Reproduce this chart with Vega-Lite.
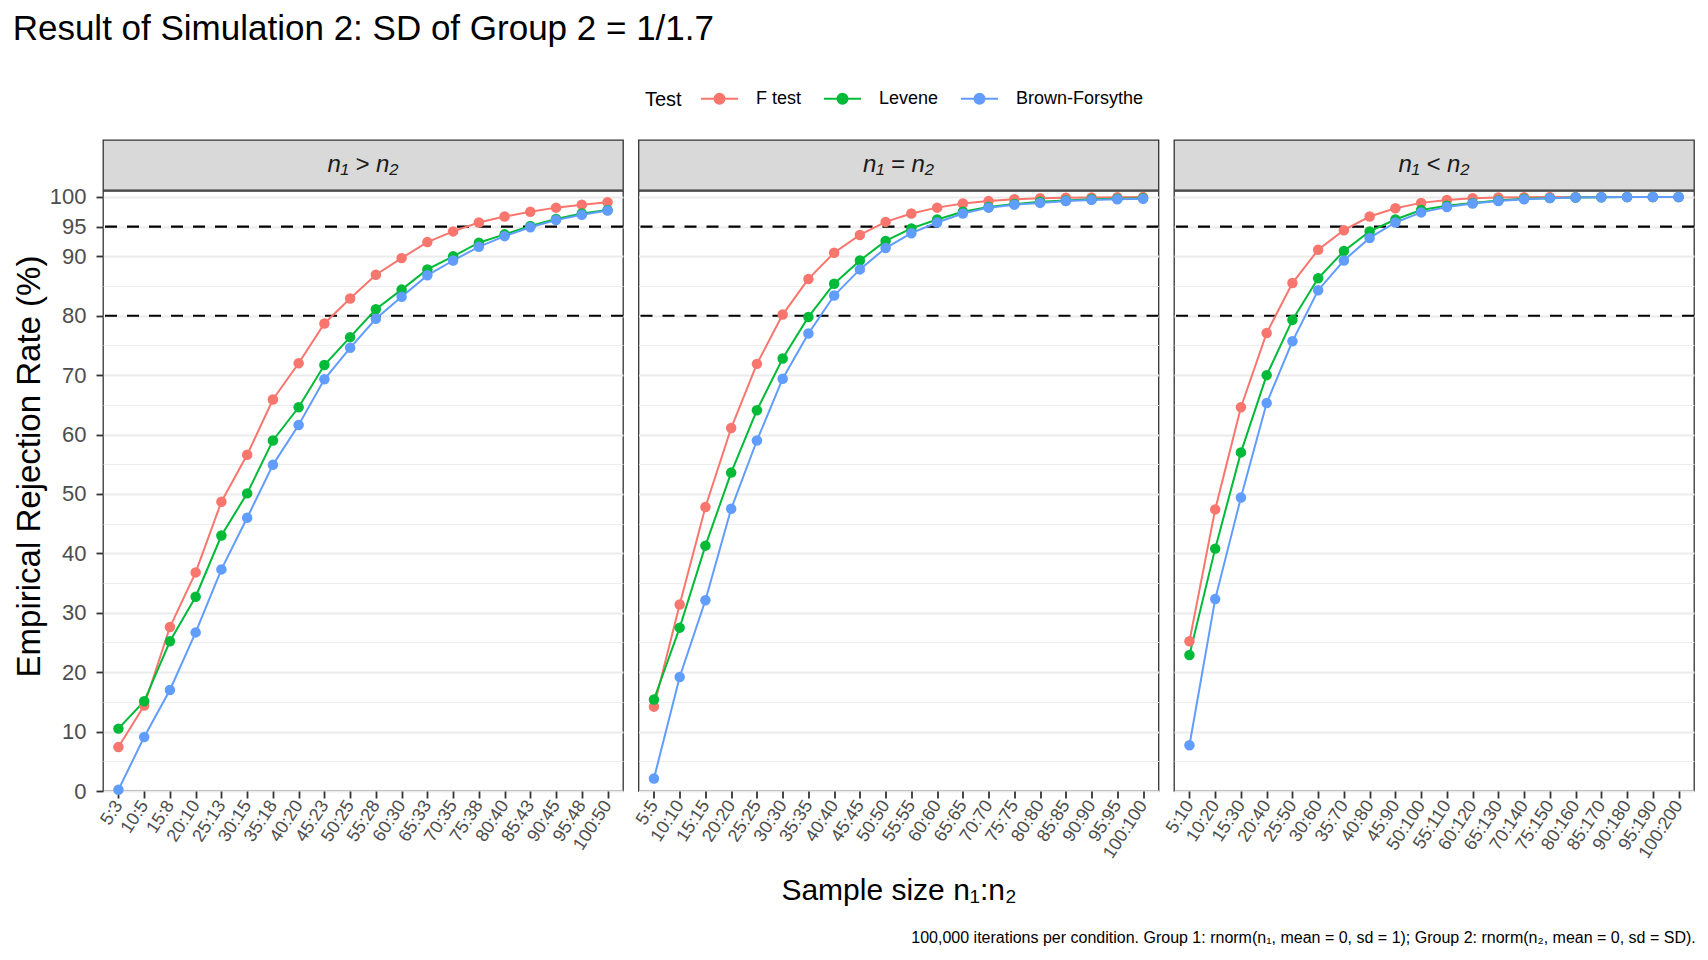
{
  "$schema": "https://vega.github.io/schema/vega-lite/v6.json",
  "background": "white",
  "padding": {"left": 12, "top": 12, "right": 10, "bottom": 8},
  "title": {
    "text": "Result of Simulation 2: SD of Group 2 = 1/1.7",
    "anchor": "start",
    "frame": "bounds",
    "fontSize": 35,
    "fontWeight": "normal",
    "color": "black",
    "offset": 32
  },
  "datasets": {
    "refs": [{"rate": 80}, {"rate": 95}],
    "sim": [
      {"panel": "gt", "ratio": "5:3", "n1": 5, "test": "F test", "rate": 7.4},
      {"panel": "gt", "ratio": "10:5", "n1": 10, "test": "F test", "rate": 14.4},
      {"panel": "gt", "ratio": "15:8", "n1": 15, "test": "F test", "rate": 27.6},
      {"panel": "gt", "ratio": "20:10", "n1": 20, "test": "F test", "rate": 36.8},
      {"panel": "gt", "ratio": "25:13", "n1": 25, "test": "F test", "rate": 48.7},
      {"panel": "gt", "ratio": "30:15", "n1": 30, "test": "F test", "rate": 56.6},
      {"panel": "gt", "ratio": "35:18", "n1": 35, "test": "F test", "rate": 65.9},
      {"panel": "gt", "ratio": "40:20", "n1": 40, "test": "F test", "rate": 72.0},
      {"panel": "gt", "ratio": "45:23", "n1": 45, "test": "F test", "rate": 78.7},
      {"panel": "gt", "ratio": "50:25", "n1": 50, "test": "F test", "rate": 82.9},
      {"panel": "gt", "ratio": "55:28", "n1": 55, "test": "F test", "rate": 86.9},
      {"panel": "gt", "ratio": "60:30", "n1": 60, "test": "F test", "rate": 89.7},
      {"panel": "gt", "ratio": "65:33", "n1": 65, "test": "F test", "rate": 92.4},
      {"panel": "gt", "ratio": "70:35", "n1": 70, "test": "F test", "rate": 94.2},
      {"panel": "gt", "ratio": "75:38", "n1": 75, "test": "F test", "rate": 95.7},
      {"panel": "gt", "ratio": "80:40", "n1": 80, "test": "F test", "rate": 96.7},
      {"panel": "gt", "ratio": "85:43", "n1": 85, "test": "F test", "rate": 97.5},
      {"panel": "gt", "ratio": "90:45", "n1": 90, "test": "F test", "rate": 98.2},
      {"panel": "gt", "ratio": "95:48", "n1": 95, "test": "F test", "rate": 98.7},
      {"panel": "gt", "ratio": "100:50", "n1": 100, "test": "F test", "rate": 99.1},
      {"panel": "gt", "ratio": "5:3", "n1": 5, "test": "Levene", "rate": 10.5},
      {"panel": "gt", "ratio": "10:5", "n1": 10, "test": "Levene", "rate": 15.1},
      {"panel": "gt", "ratio": "15:8", "n1": 15, "test": "Levene", "rate": 25.2},
      {"panel": "gt", "ratio": "20:10", "n1": 20, "test": "Levene", "rate": 32.7},
      {"panel": "gt", "ratio": "25:13", "n1": 25, "test": "Levene", "rate": 43.0},
      {"panel": "gt", "ratio": "30:15", "n1": 30, "test": "Levene", "rate": 50.1},
      {"panel": "gt", "ratio": "35:18", "n1": 35, "test": "Levene", "rate": 59.0},
      {"panel": "gt", "ratio": "40:20", "n1": 40, "test": "Levene", "rate": 64.6},
      {"panel": "gt", "ratio": "45:23", "n1": 45, "test": "Levene", "rate": 71.7},
      {"panel": "gt", "ratio": "50:25", "n1": 50, "test": "Levene", "rate": 76.4},
      {"panel": "gt", "ratio": "55:28", "n1": 55, "test": "Levene", "rate": 81.1},
      {"panel": "gt", "ratio": "60:30", "n1": 60, "test": "Levene", "rate": 84.4},
      {"panel": "gt", "ratio": "65:33", "n1": 65, "test": "Levene", "rate": 87.8},
      {"panel": "gt", "ratio": "70:35", "n1": 70, "test": "Levene", "rate": 90.0},
      {"panel": "gt", "ratio": "75:38", "n1": 75, "test": "Levene", "rate": 92.3},
      {"panel": "gt", "ratio": "80:40", "n1": 80, "test": "Levene", "rate": 93.7},
      {"panel": "gt", "ratio": "85:43", "n1": 85, "test": "Levene", "rate": 95.1},
      {"panel": "gt", "ratio": "90:45", "n1": 90, "test": "Levene", "rate": 96.3},
      {"panel": "gt", "ratio": "95:48", "n1": 95, "test": "Levene", "rate": 97.2},
      {"panel": "gt", "ratio": "100:50", "n1": 100, "test": "Levene", "rate": 97.8},
      {"panel": "gt", "ratio": "5:3", "n1": 5, "test": "Brown-Forsythe", "rate": 0.2},
      {"panel": "gt", "ratio": "10:5", "n1": 10, "test": "Brown-Forsythe", "rate": 9.1},
      {"panel": "gt", "ratio": "15:8", "n1": 15, "test": "Brown-Forsythe", "rate": 17.0},
      {"panel": "gt", "ratio": "20:10", "n1": 20, "test": "Brown-Forsythe", "rate": 26.7},
      {"panel": "gt", "ratio": "25:13", "n1": 25, "test": "Brown-Forsythe", "rate": 37.3},
      {"panel": "gt", "ratio": "30:15", "n1": 30, "test": "Brown-Forsythe", "rate": 46.0},
      {"panel": "gt", "ratio": "35:18", "n1": 35, "test": "Brown-Forsythe", "rate": 54.9},
      {"panel": "gt", "ratio": "40:20", "n1": 40, "test": "Brown-Forsythe", "rate": 61.6},
      {"panel": "gt", "ratio": "45:23", "n1": 45, "test": "Brown-Forsythe", "rate": 69.3},
      {"panel": "gt", "ratio": "50:25", "n1": 50, "test": "Brown-Forsythe", "rate": 74.6},
      {"panel": "gt", "ratio": "55:28", "n1": 55, "test": "Brown-Forsythe", "rate": 79.5},
      {"panel": "gt", "ratio": "60:30", "n1": 60, "test": "Brown-Forsythe", "rate": 83.2},
      {"panel": "gt", "ratio": "65:33", "n1": 65, "test": "Brown-Forsythe", "rate": 86.8},
      {"panel": "gt", "ratio": "70:35", "n1": 70, "test": "Brown-Forsythe", "rate": 89.3},
      {"panel": "gt", "ratio": "75:38", "n1": 75, "test": "Brown-Forsythe", "rate": 91.6},
      {"panel": "gt", "ratio": "80:40", "n1": 80, "test": "Brown-Forsythe", "rate": 93.4},
      {"panel": "gt", "ratio": "85:43", "n1": 85, "test": "Brown-Forsythe", "rate": 94.9},
      {"panel": "gt", "ratio": "90:45", "n1": 90, "test": "Brown-Forsythe", "rate": 96.1},
      {"panel": "gt", "ratio": "95:48", "n1": 95, "test": "Brown-Forsythe", "rate": 97.0},
      {"panel": "gt", "ratio": "100:50", "n1": 100, "test": "Brown-Forsythe", "rate": 97.7},
      {"panel": "eq", "ratio": "5:5", "n1": 5, "test": "F test", "rate": 14.2},
      {"panel": "eq", "ratio": "10:10", "n1": 10, "test": "F test", "rate": 31.4},
      {"panel": "eq", "ratio": "15:15", "n1": 15, "test": "F test", "rate": 47.8},
      {"panel": "eq", "ratio": "20:20", "n1": 20, "test": "F test", "rate": 61.1},
      {"panel": "eq", "ratio": "25:25", "n1": 25, "test": "F test", "rate": 71.9},
      {"panel": "eq", "ratio": "30:30", "n1": 30, "test": "F test", "rate": 80.2},
      {"panel": "eq", "ratio": "35:35", "n1": 35, "test": "F test", "rate": 86.2},
      {"panel": "eq", "ratio": "40:40", "n1": 40, "test": "F test", "rate": 90.6},
      {"panel": "eq", "ratio": "45:45", "n1": 45, "test": "F test", "rate": 93.6},
      {"panel": "eq", "ratio": "50:50", "n1": 50, "test": "F test", "rate": 95.8},
      {"panel": "eq", "ratio": "55:55", "n1": 55, "test": "F test", "rate": 97.2},
      {"panel": "eq", "ratio": "60:60", "n1": 60, "test": "F test", "rate": 98.2},
      {"panel": "eq", "ratio": "65:65", "n1": 65, "test": "F test", "rate": 98.9},
      {"panel": "eq", "ratio": "70:70", "n1": 70, "test": "F test", "rate": 99.3},
      {"panel": "eq", "ratio": "75:75", "n1": 75, "test": "F test", "rate": 99.6},
      {"panel": "eq", "ratio": "80:80", "n1": 80, "test": "F test", "rate": 99.8},
      {"panel": "eq", "ratio": "85:85", "n1": 85, "test": "F test", "rate": 99.85},
      {"panel": "eq", "ratio": "90:90", "n1": 90, "test": "F test", "rate": 99.9},
      {"panel": "eq", "ratio": "95:95", "n1": 95, "test": "F test", "rate": 99.95},
      {"panel": "eq", "ratio": "100:100", "n1": 100, "test": "F test", "rate": 99.97},
      {"panel": "eq", "ratio": "5:5", "n1": 5, "test": "Levene", "rate": 15.4},
      {"panel": "eq", "ratio": "10:10", "n1": 10, "test": "Levene", "rate": 27.5},
      {"panel": "eq", "ratio": "15:15", "n1": 15, "test": "Levene", "rate": 41.3},
      {"panel": "eq", "ratio": "20:20", "n1": 20, "test": "Levene", "rate": 53.6},
      {"panel": "eq", "ratio": "25:25", "n1": 25, "test": "Levene", "rate": 64.1},
      {"panel": "eq", "ratio": "30:30", "n1": 30, "test": "Levene", "rate": 72.8},
      {"panel": "eq", "ratio": "35:35", "n1": 35, "test": "Levene", "rate": 79.8},
      {"panel": "eq", "ratio": "40:40", "n1": 40, "test": "Levene", "rate": 85.4},
      {"panel": "eq", "ratio": "45:45", "n1": 45, "test": "Levene", "rate": 89.3},
      {"panel": "eq", "ratio": "50:50", "n1": 50, "test": "Levene", "rate": 92.6},
      {"panel": "eq", "ratio": "55:55", "n1": 55, "test": "Levene", "rate": 94.7},
      {"panel": "eq", "ratio": "60:60", "n1": 60, "test": "Levene", "rate": 96.2},
      {"panel": "eq", "ratio": "65:65", "n1": 65, "test": "Levene", "rate": 97.5},
      {"panel": "eq", "ratio": "70:70", "n1": 70, "test": "Levene", "rate": 98.3},
      {"panel": "eq", "ratio": "75:75", "n1": 75, "test": "Levene", "rate": 98.8},
      {"panel": "eq", "ratio": "80:80", "n1": 80, "test": "Levene", "rate": 99.2},
      {"panel": "eq", "ratio": "85:85", "n1": 85, "test": "Levene", "rate": 99.4},
      {"panel": "eq", "ratio": "90:90", "n1": 90, "test": "Levene", "rate": 99.6},
      {"panel": "eq", "ratio": "95:95", "n1": 95, "test": "Levene", "rate": 99.7},
      {"panel": "eq", "ratio": "100:100", "n1": 100, "test": "Levene", "rate": 99.8},
      {"panel": "eq", "ratio": "5:5", "n1": 5, "test": "Brown-Forsythe", "rate": 2.1},
      {"panel": "eq", "ratio": "10:10", "n1": 10, "test": "Brown-Forsythe", "rate": 19.2},
      {"panel": "eq", "ratio": "15:15", "n1": 15, "test": "Brown-Forsythe", "rate": 32.1},
      {"panel": "eq", "ratio": "20:20", "n1": 20, "test": "Brown-Forsythe", "rate": 47.5},
      {"panel": "eq", "ratio": "25:25", "n1": 25, "test": "Brown-Forsythe", "rate": 59.0},
      {"panel": "eq", "ratio": "30:30", "n1": 30, "test": "Brown-Forsythe", "rate": 69.4},
      {"panel": "eq", "ratio": "35:35", "n1": 35, "test": "Brown-Forsythe", "rate": 77.0},
      {"panel": "eq", "ratio": "40:40", "n1": 40, "test": "Brown-Forsythe", "rate": 83.4},
      {"panel": "eq", "ratio": "45:45", "n1": 45, "test": "Brown-Forsythe", "rate": 87.8},
      {"panel": "eq", "ratio": "50:50", "n1": 50, "test": "Brown-Forsythe", "rate": 91.4},
      {"panel": "eq", "ratio": "55:55", "n1": 55, "test": "Brown-Forsythe", "rate": 93.9},
      {"panel": "eq", "ratio": "60:60", "n1": 60, "test": "Brown-Forsythe", "rate": 95.7},
      {"panel": "eq", "ratio": "65:65", "n1": 65, "test": "Brown-Forsythe", "rate": 97.2},
      {"panel": "eq", "ratio": "70:70", "n1": 70, "test": "Brown-Forsythe", "rate": 98.2},
      {"panel": "eq", "ratio": "75:75", "n1": 75, "test": "Brown-Forsythe", "rate": 98.7},
      {"panel": "eq", "ratio": "80:80", "n1": 80, "test": "Brown-Forsythe", "rate": 99.0},
      {"panel": "eq", "ratio": "85:85", "n1": 85, "test": "Brown-Forsythe", "rate": 99.3},
      {"panel": "eq", "ratio": "90:90", "n1": 90, "test": "Brown-Forsythe", "rate": 99.5},
      {"panel": "eq", "ratio": "95:95", "n1": 95, "test": "Brown-Forsythe", "rate": 99.6},
      {"panel": "eq", "ratio": "100:100", "n1": 100, "test": "Brown-Forsythe", "rate": 99.7},
      {"panel": "lt", "ratio": "5:10", "n1": 5, "test": "F test", "rate": 25.2},
      {"panel": "lt", "ratio": "10:20", "n1": 10, "test": "F test", "rate": 47.4},
      {"panel": "lt", "ratio": "15:30", "n1": 15, "test": "F test", "rate": 64.6},
      {"panel": "lt", "ratio": "20:40", "n1": 20, "test": "F test", "rate": 77.1},
      {"panel": "lt", "ratio": "25:50", "n1": 25, "test": "F test", "rate": 85.5},
      {"panel": "lt", "ratio": "30:60", "n1": 30, "test": "F test", "rate": 91.1},
      {"panel": "lt", "ratio": "35:70", "n1": 35, "test": "F test", "rate": 94.4},
      {"panel": "lt", "ratio": "40:80", "n1": 40, "test": "F test", "rate": 96.7},
      {"panel": "lt", "ratio": "45:90", "n1": 45, "test": "F test", "rate": 98.1},
      {"panel": "lt", "ratio": "50:100", "n1": 50, "test": "F test", "rate": 99.0},
      {"panel": "lt", "ratio": "55:110", "n1": 55, "test": "F test", "rate": 99.5},
      {"panel": "lt", "ratio": "60:120", "n1": 60, "test": "F test", "rate": 99.8},
      {"panel": "lt", "ratio": "65:130", "n1": 65, "test": "F test", "rate": 99.9},
      {"panel": "lt", "ratio": "70:140", "n1": 70, "test": "F test", "rate": 99.95},
      {"panel": "lt", "ratio": "75:150", "n1": 75, "test": "F test", "rate": 99.97},
      {"panel": "lt", "ratio": "80:160", "n1": 80, "test": "F test", "rate": 99.98},
      {"panel": "lt", "ratio": "85:170", "n1": 85, "test": "F test", "rate": 99.99},
      {"panel": "lt", "ratio": "90:180", "n1": 90, "test": "F test", "rate": 100},
      {"panel": "lt", "ratio": "95:190", "n1": 95, "test": "F test", "rate": 100},
      {"panel": "lt", "ratio": "100:200", "n1": 100, "test": "F test", "rate": 100},
      {"panel": "lt", "ratio": "5:10", "n1": 5, "test": "Levene", "rate": 22.9},
      {"panel": "lt", "ratio": "10:20", "n1": 10, "test": "Levene", "rate": 40.8},
      {"panel": "lt", "ratio": "15:30", "n1": 15, "test": "Levene", "rate": 57.0},
      {"panel": "lt", "ratio": "20:40", "n1": 20, "test": "Levene", "rate": 70.0},
      {"panel": "lt", "ratio": "25:50", "n1": 25, "test": "Levene", "rate": 79.3},
      {"panel": "lt", "ratio": "30:60", "n1": 30, "test": "Levene", "rate": 86.3},
      {"panel": "lt", "ratio": "35:70", "n1": 35, "test": "Levene", "rate": 90.9},
      {"panel": "lt", "ratio": "40:80", "n1": 40, "test": "Levene", "rate": 94.2},
      {"panel": "lt", "ratio": "45:90", "n1": 45, "test": "Levene", "rate": 96.2},
      {"panel": "lt", "ratio": "50:100", "n1": 50, "test": "Levene", "rate": 97.8},
      {"panel": "lt", "ratio": "55:110", "n1": 55, "test": "Levene", "rate": 98.5},
      {"panel": "lt", "ratio": "60:120", "n1": 60, "test": "Levene", "rate": 99.0},
      {"panel": "lt", "ratio": "65:130", "n1": 65, "test": "Levene", "rate": 99.4},
      {"panel": "lt", "ratio": "70:140", "n1": 70, "test": "Levene", "rate": 99.7},
      {"panel": "lt", "ratio": "75:150", "n1": 75, "test": "Levene", "rate": 99.8},
      {"panel": "lt", "ratio": "80:160", "n1": 80, "test": "Levene", "rate": 99.9},
      {"panel": "lt", "ratio": "85:170", "n1": 85, "test": "Levene", "rate": 99.95},
      {"panel": "lt", "ratio": "90:180", "n1": 90, "test": "Levene", "rate": 99.97},
      {"panel": "lt", "ratio": "95:190", "n1": 95, "test": "Levene", "rate": 99.98},
      {"panel": "lt", "ratio": "100:200", "n1": 100, "test": "Levene", "rate": 99.99},
      {"panel": "lt", "ratio": "5:10", "n1": 5, "test": "Brown-Forsythe", "rate": 7.7},
      {"panel": "lt", "ratio": "10:20", "n1": 10, "test": "Brown-Forsythe", "rate": 32.3},
      {"panel": "lt", "ratio": "15:30", "n1": 15, "test": "Brown-Forsythe", "rate": 49.4},
      {"panel": "lt", "ratio": "20:40", "n1": 20, "test": "Brown-Forsythe", "rate": 65.3},
      {"panel": "lt", "ratio": "25:50", "n1": 25, "test": "Brown-Forsythe", "rate": 75.7},
      {"panel": "lt", "ratio": "30:60", "n1": 30, "test": "Brown-Forsythe", "rate": 84.3},
      {"panel": "lt", "ratio": "35:70", "n1": 35, "test": "Brown-Forsythe", "rate": 89.3},
      {"panel": "lt", "ratio": "40:80", "n1": 40, "test": "Brown-Forsythe", "rate": 93.1},
      {"panel": "lt", "ratio": "45:90", "n1": 45, "test": "Brown-Forsythe", "rate": 95.7},
      {"panel": "lt", "ratio": "50:100", "n1": 50, "test": "Brown-Forsythe", "rate": 97.4},
      {"panel": "lt", "ratio": "55:110", "n1": 55, "test": "Brown-Forsythe", "rate": 98.3},
      {"panel": "lt", "ratio": "60:120", "n1": 60, "test": "Brown-Forsythe", "rate": 98.9},
      {"panel": "lt", "ratio": "65:130", "n1": 65, "test": "Brown-Forsythe", "rate": 99.3},
      {"panel": "lt", "ratio": "70:140", "n1": 70, "test": "Brown-Forsythe", "rate": 99.6},
      {"panel": "lt", "ratio": "75:150", "n1": 75, "test": "Brown-Forsythe", "rate": 99.8},
      {"panel": "lt", "ratio": "80:160", "n1": 80, "test": "Brown-Forsythe", "rate": 99.9},
      {"panel": "lt", "ratio": "85:170", "n1": 85, "test": "Brown-Forsythe", "rate": 99.95},
      {"panel": "lt", "ratio": "90:180", "n1": 90, "test": "Brown-Forsythe", "rate": 99.97},
      {"panel": "lt", "ratio": "95:190", "n1": 95, "test": "Brown-Forsythe", "rate": 99.98},
      {"panel": "lt", "ratio": "100:200", "n1": 100, "test": "Brown-Forsythe", "rate": 99.99}
    ]
  },
  "spacing": -7,
  "vconcat": [
    {
      "bounds": "flush",
      "spacing": 15.5,
      "hconcat": [
        {
          "width": 520,
          "height": 50,
          "view": {"fill": "#D9D9D9", "stroke": "#333333", "strokeWidth": 1.3},
          "data": {"values": [{"label": "n₁ > n₂"}]},
          "mark": {"type": "text", "fontSize": 24, "fontStyle": "italic", "color": "#1A1A1A", "baseline": "middle"},
          "encoding": {"text": {"field": "label"}}
        },
        {
          "width": 520,
          "height": 50,
          "view": {"fill": "#D9D9D9", "stroke": "#333333", "strokeWidth": 1.3},
          "data": {"values": [{"label": "n₁ = n₂"}]},
          "mark": {"type": "text", "fontSize": 24, "fontStyle": "italic", "color": "#1A1A1A", "baseline": "middle"},
          "encoding": {"text": {"field": "label"}}
        },
        {
          "width": 520,
          "height": 50,
          "view": {"fill": "#D9D9D9", "stroke": "#333333", "strokeWidth": 1.3},
          "data": {"values": [{"label": "n₁ < n₂"}]},
          "mark": {"type": "text", "fontSize": 24, "fontStyle": "italic", "color": "#1A1A1A", "baseline": "middle"},
          "encoding": {"text": {"field": "label"}}
        }
      ]
    },
    {
      "bounds": "flush",
      "spacing": 15.5,
      "title": {
        "text": "100,000 iterations per condition. Group 1: rnorm(n₁, mean = 0, sd = 1); Group 2: rnorm(n₂, mean = 0, sd = SD).",
        "orient": "bottom",
        "anchor": "end",
        "frame": "bounds",
        "fontSize": 16,
        "fontWeight": "normal",
        "color": "black",
        "offset": 24
      },
      "hconcat": [
        {
          "width": 520,
          "height": 600,
          "view": {"stroke": "#333333", "strokeWidth": 1.3},
          "encoding": {
            "y": {
              "field": "rate",
              "type": "quantitative",
              "scale": {"domain": [0, 101], "nice": false},
              "axis": {
                "title": "Empirical Rejection Rate (%)",
                "titleFontSize": 33,
                "titlePadding": 3,
                "titleY": 275,
                "values": [0, 5, 10, 15, 20, 25, 30, 35, 40, 45, 50, 55, 60, 65, 70, 75, 80, 85, 90, 95, 100],
                "labelExpr": "datum.value % 10 === 5 && datum.value < 90 ? '' : datum.label",
                "labelFontSize": 22,
                "labelPadding": 10,
                "labelOverlap": false,
                "tickColor": {"condition": {"test": "datum.value % 10 === 5 && datum.value < 90", "value": "transparent"}, "value": "#333333"},
                "gridWidth": {"condition": {"test": "datum.value % 10 === 5 && datum.value < 90", "value": 0.9}, "value": 1.8}
              }
            }
          },
          "layer": [
            {
              "data": {"name": "refs"},
              "mark": {"type": "rule", "color": "black", "strokeWidth": 2.2, "strokeDash": [12, 10]},
              "encoding": {}
            },
            {
              "data": {"name": "sim"},
              "transform": [{"filter": "datum.panel === 'gt'"}],
              "encoding": {
                "x": {
                  "field": "ratio",
                  "type": "ordinal",
                  "sort": {"field": "n1", "op": "min"},
                  "scale": {"type": "point", "padding": 0.6},
                  "axis": {"title": null, "labelAngle": -57, "labelAlign": "right", "labelBaseline": "middle", "labelFontSize": 18, "labelPadding": 4, "labelOverlap": false, "gridWidth": 1.8}
                },
                "color": {
                  "field": "test",
                  "type": "nominal",
                  "scale": {"domain": ["F test", "Levene", "Brown-Forsythe"], "range": ["#F8766D", "#00BA38", "#619CFF"]},
                  "legend": {
                    "title": "Test",
                    "orient": "none",
                    "legendX": 542,
                    "legendY": -61,
                    "direction": "horizontal",
                    "titleOrient": "left",
                    "titleFontSize": 20,
                    "titleFontWeight": "normal",
                    "titleColor": "black",
                    "titlePadding": 18,
                    "labelFontSize": 18,
                    "labelColor": "black",
                    "labelOffset": 17,
                    "columnPadding": 18,
                    "symbolType": "M-1,0L1,0M0.27,0A0.27,0.27,0,1,1,-0.27,0A0.27,0.27,0,1,1,0.27,0Z",
                    "symbolSize": 1369,
                    "symbolStrokeWidth": 2,
                    "encode": {
                      "symbols": {"update": {"fill": {"scale": "color", "field": "value"}, "stroke": {"scale": "color", "field": "value"}, "opacity": {"value": 1}}},
                      "title": {"update": {"dy": {"value": 7}}}
                    }
                  }
                }
              },
              "layer": [
                {"mark": {"type": "line", "strokeWidth": 2}, "encoding": {"order": {"field": "n1", "type": "quantitative"}}},
                {"mark": {"type": "point", "filled": true, "size": 110, "opacity": 1}}
              ]
            }
          ]
        },
        {
          "width": 520,
          "height": 600,
          "view": {"stroke": "#333333", "strokeWidth": 1.3},
          "encoding": {
            "y": {
              "field": "rate",
              "type": "quantitative",
              "scale": {"domain": [0, 101], "nice": false},
              "axis": {
                "title": null,
                "labels": false,
                "ticks": false,
                "values": [0, 5, 10, 15, 20, 25, 30, 35, 40, 45, 50, 55, 60, 65, 70, 75, 80, 85, 90, 95, 100],
                "gridWidth": {"condition": {"test": "datum.value % 10 === 5 && datum.value < 90", "value": 0.9}, "value": 1.8}
              }
            }
          },
          "layer": [
            {
              "data": {"name": "refs"},
              "mark": {"type": "rule", "color": "black", "strokeWidth": 2.2, "strokeDash": [12, 10]},
              "encoding": {}
            },
            {
              "data": {"name": "sim"},
              "transform": [{"filter": "datum.panel === 'eq'"}],
              "encoding": {
                "x": {
                  "field": "ratio",
                  "type": "ordinal",
                  "sort": {"field": "n1", "op": "min"},
                  "scale": {"type": "point", "padding": 0.6},
                  "axis": {"title": "Sample size n₁:n₂", "titleFontSize": 30, "titlePadding": 14, "labelAngle": -57, "labelAlign": "right", "labelBaseline": "middle", "labelFontSize": 18, "labelPadding": 4, "labelOverlap": false, "gridWidth": 1.8}
                },
                "color": {
                  "field": "test",
                  "type": "nominal",
                  "scale": {"domain": ["F test", "Levene", "Brown-Forsythe"], "range": ["#F8766D", "#00BA38", "#619CFF"]},
                  "legend": {
                    "title": "Test",
                    "orient": "none",
                    "legendX": 542,
                    "legendY": -61,
                    "direction": "horizontal",
                    "titleOrient": "left",
                    "titleFontSize": 20,
                    "titleFontWeight": "normal",
                    "titleColor": "black",
                    "titlePadding": 18,
                    "labelFontSize": 18,
                    "labelColor": "black",
                    "labelOffset": 17,
                    "columnPadding": 18,
                    "symbolType": "M-1,0L1,0M0.27,0A0.27,0.27,0,1,1,-0.27,0A0.27,0.27,0,1,1,0.27,0Z",
                    "symbolSize": 1369,
                    "symbolStrokeWidth": 2,
                    "encode": {
                      "symbols": {"update": {"fill": {"scale": "color", "field": "value"}, "stroke": {"scale": "color", "field": "value"}, "opacity": {"value": 1}}},
                      "title": {"update": {"dy": {"value": 7}}}
                    }
                  }
                }
              },
              "layer": [
                {"mark": {"type": "line", "strokeWidth": 2}, "encoding": {"order": {"field": "n1", "type": "quantitative"}}},
                {"mark": {"type": "point", "filled": true, "size": 110, "opacity": 1}}
              ]
            }
          ]
        },
        {
          "width": 520,
          "height": 600,
          "view": {"stroke": "#333333", "strokeWidth": 1.3},
          "encoding": {
            "y": {
              "field": "rate",
              "type": "quantitative",
              "scale": {"domain": [0, 101], "nice": false},
              "axis": {
                "title": null,
                "labels": false,
                "ticks": false,
                "values": [0, 5, 10, 15, 20, 25, 30, 35, 40, 45, 50, 55, 60, 65, 70, 75, 80, 85, 90, 95, 100],
                "gridWidth": {"condition": {"test": "datum.value % 10 === 5 && datum.value < 90", "value": 0.9}, "value": 1.8}
              }
            }
          },
          "layer": [
            {
              "data": {"name": "refs"},
              "mark": {"type": "rule", "color": "black", "strokeWidth": 2.2, "strokeDash": [12, 10]},
              "encoding": {}
            },
            {
              "data": {"name": "sim"},
              "transform": [{"filter": "datum.panel === 'lt'"}],
              "encoding": {
                "x": {
                  "field": "ratio",
                  "type": "ordinal",
                  "sort": {"field": "n1", "op": "min"},
                  "scale": {"type": "point", "padding": 0.6},
                  "axis": {"title": null, "labelAngle": -57, "labelAlign": "right", "labelBaseline": "middle", "labelFontSize": 18, "labelPadding": 4, "labelOverlap": false, "gridWidth": 1.8}
                },
                "color": {
                  "field": "test",
                  "type": "nominal",
                  "scale": {"domain": ["F test", "Levene", "Brown-Forsythe"], "range": ["#F8766D", "#00BA38", "#619CFF"]},
                  "legend": {
                    "title": "Test",
                    "orient": "none",
                    "legendX": 542,
                    "legendY": -61,
                    "direction": "horizontal",
                    "titleOrient": "left",
                    "titleFontSize": 20,
                    "titleFontWeight": "normal",
                    "titleColor": "black",
                    "titlePadding": 18,
                    "labelFontSize": 18,
                    "labelColor": "black",
                    "labelOffset": 17,
                    "columnPadding": 18,
                    "symbolType": "M-1,0L1,0M0.27,0A0.27,0.27,0,1,1,-0.27,0A0.27,0.27,0,1,1,0.27,0Z",
                    "symbolSize": 1369,
                    "symbolStrokeWidth": 2,
                    "encode": {
                      "symbols": {"update": {"fill": {"scale": "color", "field": "value"}, "stroke": {"scale": "color", "field": "value"}, "opacity": {"value": 1}}},
                      "title": {"update": {"dy": {"value": 7}}}
                    }
                  }
                }
              },
              "layer": [
                {"mark": {"type": "line", "strokeWidth": 2}, "encoding": {"order": {"field": "n1", "type": "quantitative"}}},
                {"mark": {"type": "point", "filled": true, "size": 110, "opacity": 1}}
              ]
            }
          ]
        }
      ]
    }
  ],
  "config": {
    "font": "Liberation Sans",
    "axis": {
      "domain": false,
      "gridColor": "#EBEBEB",
      "labelColor": "#4D4D4D",
      "tickColor": "#333333",
      "tickWidth": 1.8,
      "tickSize": 7,
      "titleFontWeight": "normal",
      "titleColor": "#000000"
    }
  }
}
